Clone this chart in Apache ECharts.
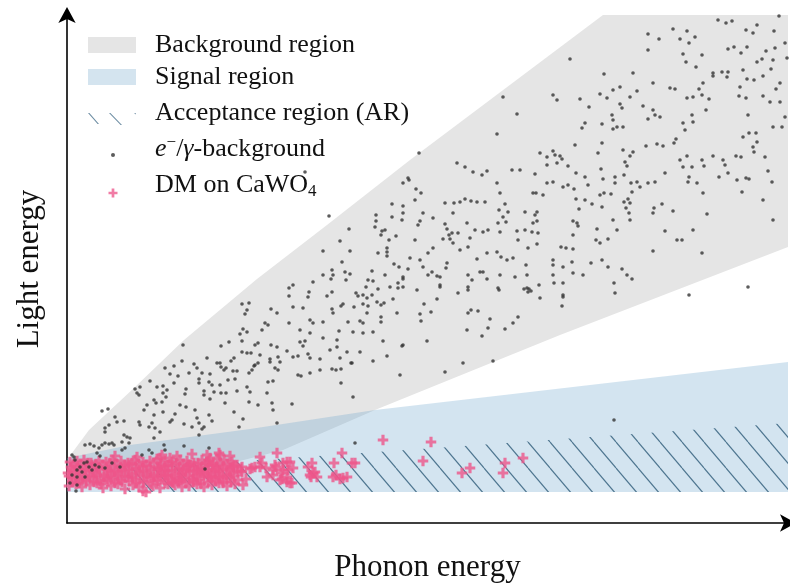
<!DOCTYPE html>
<html><head><meta charset="utf-8">
<script src="https://cdn.jsdelivr.net/npm/echarts@6/dist/echarts.min.js"></script>
<style>html,body{margin:0;padding:0;background:#fff}#c{width:790px;height:583px}</style>
</head><body><div id="c"></div>
<script>
// ---- region boundaries (arbitrary energy units) ----
const bgUpper = [[0,50],[5,70],[22,93],[67,135],[117,183],[190,244],[260,298],[343,363],[536,508],[721,508]];
const bgLower = [[721,276],[493,188],[308,113],[216,73],[153,57],[83,47],[0,35]];
const sigUpper = [[0,65],[63,78],[183,94],[308,113],[721,161]];
const sigBottom = 31;
const arUpper = [[60,54],[383,76],[721,100]];
const arBottom = 31;
const xRange = [0, 721];
const yRange = [0, 508];

// ---- e-/gamma background events ----
const gammaDots = [
[175,219],[182,220],[180,213],[178,209],[176,194],[180,191],[173,189],[175,182],[116,178],[154,177],[162,181],[188,178],[175,171],[180,170],[184,170],[140,165],[115,162],[127,159],[167,165],[164,162],[150,160],[153,160],[154,156],[107,157],[98,155],[130,155],[159,155],[157,153],[166,152],[170,152],[187,157],[103,149],[111,147],[122,150],[135,150],[143,149],[182,150],[83,142],[107,140],[132,144],[142,141],[153,138],[161,143],[168,144],[180,136],[73,136],[68,134],[70,130],[90,136],[96,137],[100,133],[96,130],[119,134],[132,140],[145,138],[137,132],[147,131],[154,130],[159,130],[170,132],[183,131],[72,128],[99,126],[118,129],[137,128],[143,124],[80,118],[87,123],[89,120],[95,121],[113,118],[119,116],[158,120],[182,121],[35,112],[41,114],[77,113],[96,111],[108,109],[87,108],[128,113],[130,105],[142,108],[145,102],[167,111],[176,104],[48,106],[50,101],[57,102],[42,98],[38,95],[72,101],[73,98],[82,96],[85,100],[103,101],[117,99],[125,96],[132,100],[137,96],[172,96],
[88,95],[93,91],[105,103],[135,94],[38,91],[57,88],[60,86],[63,85],[55,81],[62,80],[87,85],[132,88],[18,78],[23,79],[27,77],[35,78],[38,80],[42,79],[45,80],[47,78],[32,75],[55,73],[58,75],[82,73],[97,78],[117,77],[98,73],[142,75],[30,70],[33,67],[75,68],[85,70],[7,66],[8,63],[5,68],[17,60],[20,61],[13,56],[22,56],[10,53],[15,51],[25,53],[28,58],[32,56],[38,55],[45,60],[53,56],[5,48],[10,46],[18,46],[3,40],[10,38],[9,32],[138,54],
[188,158],[191,160],[185,153],[203,161],[208,155],[211,153],[213,161],[231,148],[234,147],[243,150],[253,153],[265,154],[269,153],[274,154],[284,160],[306,162],[333,148],[201,141],[206,142],[274,140],[200,130],[191,118],[205,120],[206,113],[225,119],[286,126],[210,100],[288,80],
[262,307],[336,340],[342,343],[325,319],[336,317],[336,310],[309,308],[309,302],[308,296],[315,292],[318,293],[314,288],[325,306],[329,287],[322,283],[282,294],[273,282],[320,275],[320,271],[320,267],[311,270],[283,272],[256,272],[275,261],[327,259],[332,256],[341,254],[265,253],[266,248],[256,248],[278,251],[283,249],[305,252],[318,248],[264,244],[279,243],[246,241],[301,243],[306,242],[336,244],[331,240],[226,238],[222,235],[299,236],[311,234],[323,236],[336,236],[242,231],[222,227],[241,226],[260,227],[265,231],[289,230],[291,227],[296,228],[300,225],[305,228],[310,221],[326,224],[276,219],[274,217],[226,216],[236,215],[265,214],[296,219],[301,217],[314,218],[317,220],[287,216],[204,214],[210,210],[198,200],[201,198],[195,193],[222,200],[243,203],[246,200],[256,201],[266,210],[281,201],[293,202],[296,200],[300,210],[314,206],[314,201],[330,210],[233,193],[243,190],[272,192],[286,191],[296,190],[306,191],[191,180],[204,178],[210,176],[233,181],[238,182],[236,177],[256,185],[270,183],[270,176],[316,182],[336,178],[193,168],[203,164],[211,166],[220,172],[226,166],[231,167],[241,169],[243,165],[253,164],[263,173],[273,165],[280,171],[285,160],[293,171],[320,167],
[331,235],[350,233],[373,236],[370,224],[357,219],[353,209],[364,211],[354,202],[401,233],[432,233],[457,234],[462,234],[464,232],[473,225],[472,238],[496,226],[495,217],[404,213],[401,210],[411,212],[423,204],[451,206],[446,200],[438,194],[421,195],[400,193],[415,187],[360,182],[335,177],[396,160],[378,151],[426,162],[547,103],
[503,464],[436,426],[450,409],[430,389],[352,370],[537,449],[566,450],[581,489],[581,473],[592,484],[606,494],[613,484],[620,492],[628,486],[622,480],[616,469],[619,461],[635,468],[629,456],[651,503],[659,500],[665,502],[679,493],[686,490],[690,498],[707,492],[712,507],[718,480],[661,474],[667,476],[674,470],[680,476],[699,472],[708,475],[690,461],[695,464],[706,463],[720,465],[704,454],[676,453],[687,443],[680,444],[696,447],[713,440],[709,434],[696,427],[703,421],[713,421],[673,436],[672,427],[679,425],[681,408],[706,396],[715,396],[718,406],[646,450],[646,447],[655,451],[661,451],[660,446],[636,440],[632,434],[635,428],[626,426],[620,425],[642,424],[639,413],[603,435],[608,434],[586,440],[570,432],[553,436],[546,433],[563,426],[540,425],[533,429],[522,416],[513,424],[486,428],[490,423],[515,395],[518,400],[535,399],[545,408],[546,403],[550,396],[556,396],[546,394],[553,419],[555,415],[576,417],[581,404],[586,413],[588,408],[593,406],[616,400],[626,401],[625,408],[609,384],[618,393],[613,363],[620,367],[616,356],[607,380],[596,377],[590,379],[579,377],[566,371],[556,373],[563,367],[558,361],[560,357],[535,380],[531,370],[508,378],[493,367],[486,372],[480,358],[490,360],[495,364],[501,357],[509,350],[518,346],[536,344],[534,354],[548,346],[557,348],[564,340],[570,341],[565,331],[573,336],[581,340],[588,341],[598,350],[625,356],[622,346],[621,341],[635,363],[637,357],[630,340],[636,330],[646,367],[656,363],[658,358],[652,346],[661,350],[669,367],[674,366],[670,343],[679,345],[682,344],[687,371],[676,386],[682,390],[689,390],[686,376],[690,381],[698,366],[701,352],[705,341],[675,331],[696,323],[706,303],[640,309],[626,293],[635,270],[610,283],[615,283],[598,292],[586,310],[587,315],[595,319],[586,272],[606,312],[563,320],[557,321],[561,324],[559,315],[562,310],[563,303],[546,303],[550,293],[533,328],[537,330],[544,329],[548,340],[535,316],[525,319],[518,323],[509,324],[507,334],[521,338],[512,314],[510,300],[511,297],[506,302],[506,288],[530,294],[529,283],[533,280],[541,284],[535,263],[506,274],[499,275],[494,276],[505,261],[496,256],[486,263],[486,258],[486,248],[487,240],[496,240],[524,260],[541,256],[555,254],[560,248],[565,244],[547,240],[548,230],[496,228],[516,248],[506,250],[460,235],[461,231],[459,258],[448,246],[440,263],[434,266],[430,271],[420,270],[410,264],[401,276],[393,273],[386,280],[383,284],[385,290],[376,284],[366,275],[361,270],[348,283],[353,263],[343,265],[336,246],[356,256],[361,248],[370,247],[373,246],[365,251],[380,260],[379,255],[373,238],[391,230],[401,236],[401,248],[413,251],[416,251],[405,243],[420,244],[433,248],[431,235],[446,265],[460,248],[461,275],[470,279],[466,300],[470,302],[468,308],[451,283],[450,292],[458,293],[465,291],[471,290],[470,311],[458,311],[441,311],[438,319],[432,313],[436,306],[439,301],[431,300],[433,291],[421,293],[416,291],[408,293],[403,285],[391,290],[400,300],[378,299],[380,294],[382,288],[386,310],[387,320],[393,321],[398,324],[404,322],[410,321],[418,321],[378,320],[366,305],[353,302],[356,310],[348,323],[335,303],[351,298],[341,345],[349,334],[354,330],[390,360],[398,356],[406,351],[415,348],[420,352],[430,340],[433,330],[445,353],[453,353],[468,349],[480,340],[466,330],[469,330],[476,328],[486,341],[501,338],[496,336],[473,370],[480,366],[488,368],[681,236],[622,228],[238,351]
];

// ---- dark matter events on CaWO4 ----
const dmEvents = [
[2,37],[9,39],[15,36],[23,38],[30,40],[36,35],[44,37],[51,39],[58,34],[66,38],[72,36],[76,32],[79,31],[86,37],[93,35],[101,39],[108,38],[115,36],[122,37],[130,39],[137,36],[145,38],[152,40],[160,37],[168,39],[176,38],
[5,41],[12,40],[19,42],[27,41],[34,39],[41,42],[48,40],[55,41],[62,42],[69,40],[77,41],[84,39],[91,42],[98,40],[105,41],[112,42],[119,40],[127,41],[134,39],[141,41],[149,42],[156,40],[164,41],
[5,45],[12,43],[19,44],[26,46],[33,42],[40,44],[47,45],[54,43],[61,46],[69,44],[76,42],[83,45],[90,43],[97,46],[104,44],[111,42],[118,45],[126,44],[133,43],[141,46],[148,44],[156,42],[163,45],[171,43],[179,44],
[2,47],[9,48],[16,46],[23,47],[30,48],[37,46],[44,47],[51,48],[58,47],[65,46],[73,48],[80,47],[87,46],[94,48],[101,47],[108,46],[115,48],[122,47],[130,46],[137,48],[145,47],[152,46],[160,48],[167,47],
[1,50],[8,51],[15,49],[22,52],[29,50],[37,48],[44,51],[51,50],[58,52],[65,49],[72,51],[80,50],[87,48],[94,51],[101,52],[108,49],[115,50],[123,51],[130,49],[137,52],[144,50],[152,51],[159,48],[166,50],[174,52],
[5,53],[12,54],[19,53],[26,52],[33,54],[41,53],[48,52],[55,54],[62,53],[69,54],[76,52],[84,53],[91,54],[98,53],[105,52],[112,54],[119,53],[127,52],[134,54],[141,53],[148,52],[156,54],[163,53],[171,52],
[4,56],[11,57],[18,55],[25,58],[32,56],[40,54],[47,57],[54,56],[62,58],[69,55],[76,57],[83,56],[91,54],[98,57],[105,58],[112,55],[120,56],[127,57],[134,55],[142,58],[149,56],[156,57],[163,55],[170,58],
[7,59],[14,58],[21,60],[29,59],[36,58],[43,60],[50,59],[58,58],[65,60],[72,59],[79,58],[87,60],[94,59],[101,58],[109,60],[116,59],[123,58],[131,60],[138,59],[146,58],[153,60],[160,59],[167,58],
[3,61],[10,62],[17,63],[24,60],[32,62],[39,61],[46,63],[54,62],[61,60],[68,63],[76,61],[83,62],[90,64],[98,62],[105,61],[113,63],[120,62],[127,60],[135,63],[142,62],[150,64],[157,63],[165,61],
[48,67],[70,66],[95,68],[110,67],[125,69],[140,68],[152,70],[163,67],
[153,68],[143,65],[140,60],[146,58],[150,53],[136,50],[143,46],[153,46],[130,53],[126,43],[121,58],[116,53],[113,43],[106,40],[98,48],[93,65],[103,65],[93,56],
[166,56],[175,56],[175,51],[183,54],[185,55],[188,56],[193,66],[195,60],[193,56],[199,55],[200,46],[206,53],[206,48],[209,56],[208,58],[210,70],[213,43],[214,50],[215,44],[216,60],[216,53],[220,61],[220,46],[220,41],[221,53],[223,61],[223,40],[225,40],[226,55],
[241,56],[243,48],[244,46],[245,60],[246,50],[248,51],[250,46],[266,46],[267,60],[269,48],[273,44],[275,70],[276,45],[280,46],[285,60],[288,60],
[316,83],[364,81],[356,62],[395,50],[403,55],[438,60],[436,50],[456,65]
];

// ---- legend labels ----
const legendNames = ['Background region','Signal region','Acceptance region (AR)','e−/γ-background','DM on CaWO4'];
const legendLabels = {
  'Background region':'Background region',
  'Signal region':'Signal region',
  'Acceptance region (AR)':'Acceptance region (AR)',
  'e−/γ-background':'{i|e}{sup|−}/{i|γ}-background',
  'DM on CaWO4':'DM on CaWO{sub|4}'
};

// hatch pattern
const hc = document.createElement('canvas'); hc.width = 22; hc.height = 26;
const g = hc.getContext('2d');
g.strokeStyle = 'rgba(62,104,132,0.9)'; g.lineWidth = 1.15;
for (const k of [-1,0,1]) { g.beginPath(); g.moveTo(k*22,0); g.lineTo(k*22+22,26); g.stroke(); }
const hatch = {image: hc, repeat: 'repeat'};

const bgPoly = bgUpper.concat(bgLower);
const sigPoly = [[sigUpper[0][0], sigBottom],[sigUpper[sigUpper.length-1][0], sigBottom]].concat(sigUpper.slice().reverse());
const arPoly = [[arUpper[0][0], arBottom],[arUpper[arUpper.length-1][0], arBottom]].concat(arUpper.slice().reverse());

function poly(name, pts, fill, z){
  return {name, type:'custom', z, silent:true, clip:true, data:[[0,0]],
    renderItem:(p, api) => ({type:'polygon', shape:{points: pts.map(v => api.coord(v))}, style:{fill: fill}})};
}

const FONT = 'Liberation Serif';
const rich = {
  i:{fontStyle:'italic', fontFamily:FONT, fontSize:26, lineHeight:30, color:'#111'},
  sup:{fontFamily:FONT, fontSize:17, lineHeight:22, verticalAlign:'top', color:'#111'},
  sub:{fontFamily:FONT, fontSize:17, lineHeight:17, verticalAlign:'bottom', color:'#111'}
};
function leg(name, top, left, item, w, h, pad){
  return {top, left, padding:0, itemWidth:w, itemHeight:h, selectedMode:false, orient:'vertical',
    data:[Object.assign({name}, item)],
    formatter: n => legendLabels[n],
    textStyle:{fontFamily:FONT, fontSize:26, lineHeight:30, color:'#111', padding:pad, rich}};
}
const plusPath = 'path://M3.5,0H6.5V3.5H10V6.5H6.5V10H3.5V6.5H0V3.5H3.5Z';
const hatchIcon = 'path://M0,0L1.4,0L11,11L9.6,11Z M21,0L22.4,0L34,12L32.6,12Z M46,0L47.4,0L48,0.7L48,1.4Z';

const chart = echarts.init(document.getElementById('c'), null, {renderer:'canvas'});
chart.setOption({
  animation:false,
  backgroundColor:'#fff',
  grid:{left:67, right:2, top:15, bottom:60, outerBoundsMode:'none'},
  xAxis:{type:'value', min:xRange[0], max:xRange[1], name:'Phonon energy', nameLocation:'middle', nameGap:29,
    nameTextStyle:{fontFamily:FONT, fontSize:31, color:'#111'},
    axisLine:{show:true, onZero:false, lineStyle:{color:'#000', width:1.6}, symbol:['none','arrow'], symbolSize:[13,16], symbolOffset:[0,8]},
    axisTick:{show:false}, axisLabel:{show:false}, splitLine:{show:false}},
  yAxis:{type:'value', min:yRange[0], max:yRange[1], name:'Light energy', nameLocation:'middle', nameGap:22, nameRotate:90,
    nameTextStyle:{fontFamily:FONT, fontSize:31, color:'#111'},
    axisLine:{show:true, onZero:false, lineStyle:{color:'#000', width:1.6}, symbol:['none','arrow'], symbolSize:[13,16], symbolOffset:[0,8]},
    axisTick:{show:false}, axisLabel:{show:false}, splitLine:{show:false}},
  legend:[
    leg(legendNames[0], 30, 88, {icon:'rect', itemStyle:{color:'#e5e5e5'}}, 48, 16, [0,0,0,14]),
    leg(legendNames[1], 62, 88, {icon:'rect', itemStyle:{color:'#d4e4ef'}}, 48, 16, [0,0,0,14]),
    leg(legendNames[2], 98, 88, {icon:hatchIcon, itemStyle:{color:'#6d8da3'}}, 48, 12, [0,0,12,14]),
    leg(legendNames[3], 134, 111, {icon:'circle', itemStyle:{color:'#333'}}, 4, 4, [0,0,12,35]),
    leg(legendNames[4], 170, 108.5, {icon:plusPath, itemStyle:{color:'#ee5b8e'}}, 9, 9, [0,0,16,32.5])
  ],
  series:[
    poly(legendNames[0], bgPoly, '#e5e5e5', 1),
    poly(legendNames[1], sigPoly, 'rgba(110,165,205,0.3)', 2),
    poly(legendNames[2], arPoly, hatch, 3),
    {name:legendNames[4], type:'scatter', z:4, data:dmEvents, symbol:plusPath, symbolSize:10.5, itemStyle:{color:'#ee5589'}, silent:true},
    {name:legendNames[3], type:'scatter', z:5, data:gammaDots, symbol:'circle', symbolSize:3.6, itemStyle:{color:'#333'}, silent:true}
  ]
});
</script></body></html>
